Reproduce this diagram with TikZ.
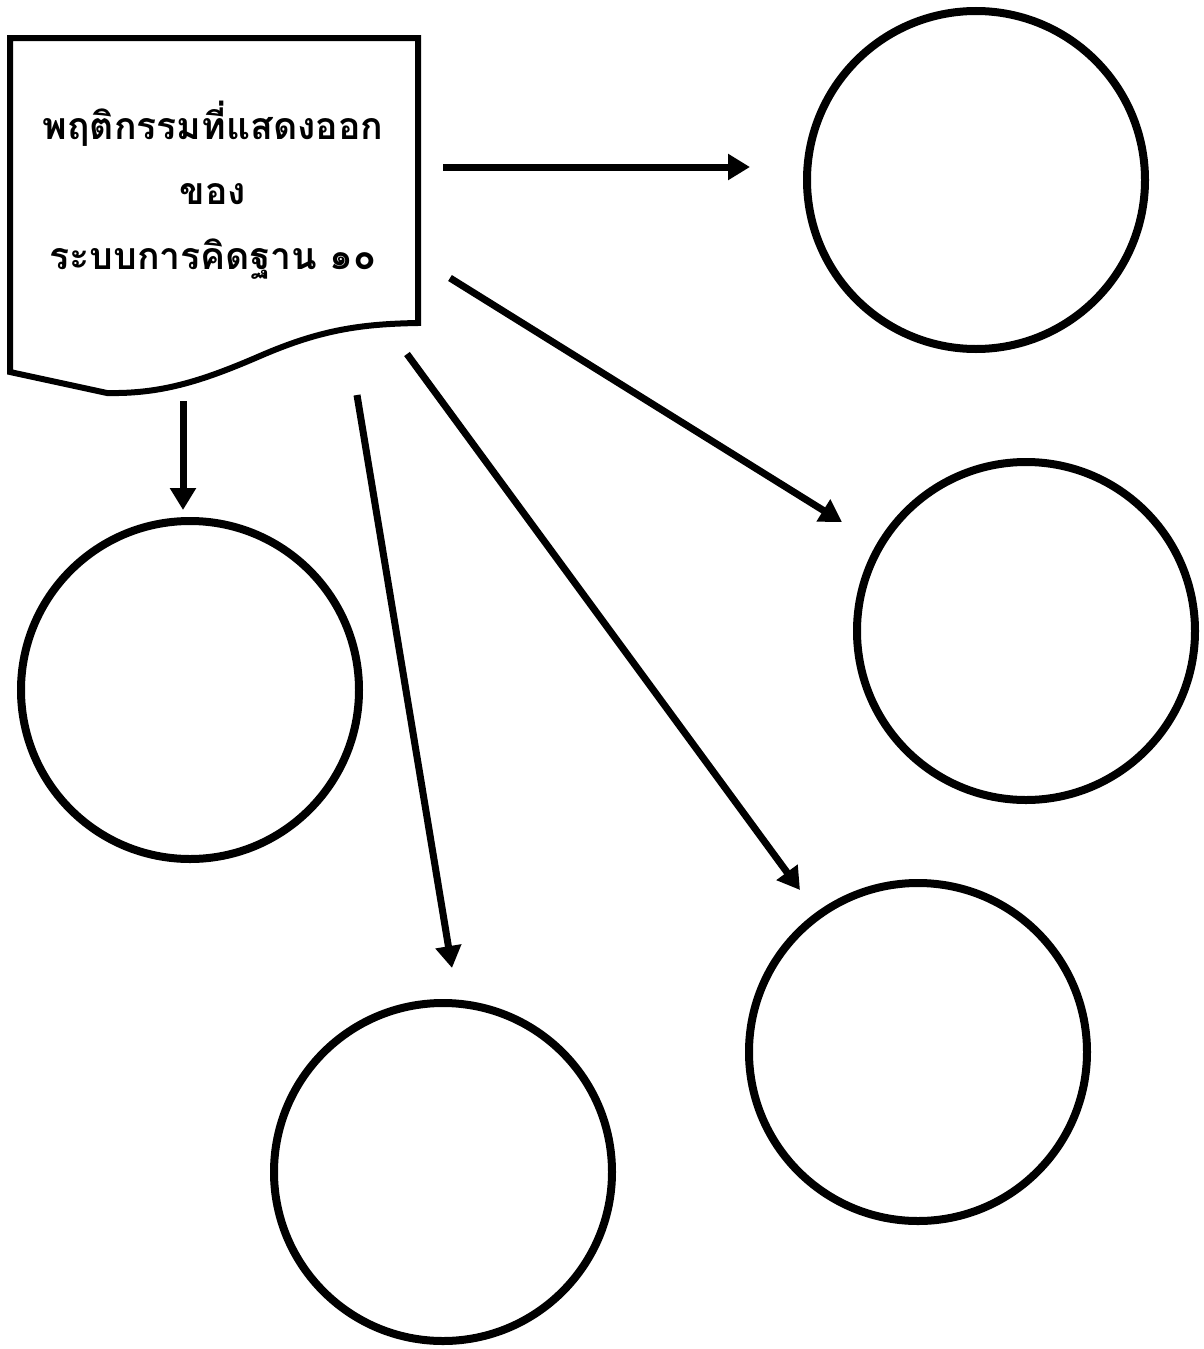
\documentclass[tikz,border=0pt]{standalone}
\usepackage{fontspec}
\newfontfamily\thaifont[Script=Thai]{Loma}
\usetikzlibrary{arrows.meta}
\begin{document}
\begin{tikzpicture}[x=0.5pt,y=-0.5pt,
  ln/.style={line width=3pt},
  circ/.style={draw,circle,line width=4pt,minimum size=169pt,inner sep=0pt},
  arr/.style={line width=3.5pt,-{Triangle[length=11pt,width=12.5pt]}},
  doctext/.style={align=center,font=\thaifont\bfseries\fontsize{18.7}{32.5}\selectfont}]
\useasboundingbox (0,0) rectangle (1204,1349);
% document shape
\draw[ln,line join=miter] (10,38) -- (418,38) -- (418,323)
  .. controls (360,324) and (320,330) .. (260,356)
  .. controls (200,382) and (160,394) .. (107,393)
  -- (10,372) -- cycle;
\node[doctext] (doc) at (213,190) {พฤติกรรมที่แสดงออก\\ของ\\ระบบการคิดฐาน ๑๐};
% circles
\node[circ] (c1) at (976,180) {};
\node[circ] (c2) at (1026,631) {};
\node[circ] (c3) at (190,690) {};
\node[circ] (c4) at (443,1172) {};
\node[circ] (c5) at (918,1052) {};
% arrow ends
\coordinate (s1) at (443,167); \coordinate (e1) at (750,167);
\coordinate (s2) at (450,278); \coordinate (e2) at (842,522);
\coordinate (s3) at (407,354); \coordinate (e3) at (800,890);
\coordinate (s4) at (357,395); \coordinate (e4) at (452,968);
\coordinate (s5) at (183,401); \coordinate (e5) at (183,510);
\draw[arr] (s1) -- (e1);
\draw[arr] (s2) -- (e2);
\draw[arr] (s3) -- (e3);
\draw[arr] (s4) -- (e4);
\draw[arr] (s5) -- (e5);
\end{tikzpicture}
\end{document}
